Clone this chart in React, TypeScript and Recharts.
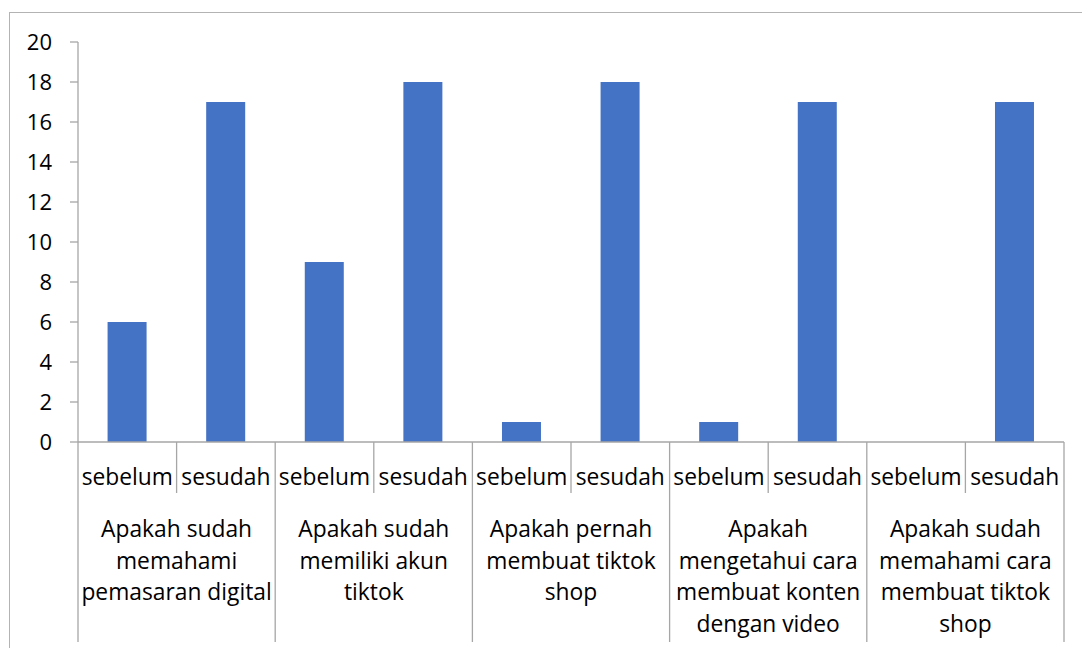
import { BarChart, Bar, XAxis, YAxis } from "recharts";

const pertanyaan = [
  "Apakah sudah\nmemahami\npemasaran digital",
  "Apakah sudah\nmemiliki akun\ntiktok",
  "Apakah pernah\nmembuat tiktok\nshop",
  "Apakah\nmengetahui cara\nmembuat konten\ndengan video",
  "Apakah sudah\nmemahami cara\nmembuat tiktok\nshop",
];
const waktu = ["sebelum", "sesudah"];
const nilaiSebelum = [6, 9, 1, 1, 0];
const nilaiSesudah = [17, 18, 18, 17, 17];
const tickNilai = [0, 2, 4, 6, 8, 10, 12, 14, 16, 18, 20];

const data = pertanyaan.flatMap((p, i) => [
  { id: `${i}-a`, waktu: waktu[0], grup: p, nilai: nilaiSebelum[i] },
  { id: `${i}-b`, waktu: waktu[1], grup: p, nilai: nilaiSesudah[i] },
]);

const GARIS = "#a6a6a6";
const FONT_X = 22.8;
const FONT_Y = 22;
const TINGGI_WAKTU = 51;
const TINGGI_GRUP = 167;

function TickWaktu(props: any) {
  const { x, y, index, width, visibleTicksCount, payload } = props;
  const half = width && visibleTicksCount ? width / visibleTicksCount / 2 : payload.offset;
  return (
    <g>
      {index % 2 === 1 && (
        <line x1={x - half} x2={x - half} y1={y} y2={y + TINGGI_WAKTU} stroke={GARIS} strokeWidth={1.3} />
      )}
      <text x={x} y={y + 43} textAnchor="middle" fontSize={FONT_X} fill="#000">
        {data[index]?.waktu}
      </text>
    </g>
  );
}

function TickGrup(props: any) {
  const { x, y, index, width, visibleTicksCount, payload } = props;
  const half = width && visibleTicksCount ? width / visibleTicksCount / 2 : payload.offset;
  const baris = String(payload.value).split("\n");
  const y1 = y - TINGGI_WAKTU;
  const y2 = y + 149;
  return (
    <g>
      <line x1={x - half} x2={x - half} y1={y1} y2={y2} stroke={GARIS} strokeWidth={1.3} />
      {index === visibleTicksCount - 1 && (
        <line x1={x + half} x2={x + half} y1={y1} y2={y2} stroke={GARIS} strokeWidth={1.3} />
      )}
      {baris.map((b, i) => (
        <text key={i} x={x} y={y + 44 + i * 31.7} textAnchor="middle" fontSize={FONT_X} fill="#000">
          {b}
        </text>
      ))}
    </g>
  );
}

export default function App() {
  return (
    <div style={{ position: "fixed", left: 0, top: 0, width: 1082, height: 648, overflow: "hidden", background: "#fff" }}>
      <div
        style={{
          position: "absolute",
          left: 9,
          top: 12,
          width: 1200,
          height: 800,
          border: "1.5px solid #b3b3b3",
        }}
      />
      <div style={{ position: "absolute", left: 0, top: 0, fontFamily: "'Open Sans', sans-serif" }}>
        <BarChart
          width={1090}
          height={660}
          data={data}
          margin={{ top: 42, right: 26, bottom: 0, left: 0 }}
          barCategoryGap="30%"
        >
          <XAxis
            dataKey="id"
            interval={0}
            height={TINGGI_WAKTU}
            tickSize={0}
            tickMargin={0}
            tickLine={false}
            axisLine={{ stroke: GARIS, strokeWidth: 1.3 }}
            tick={<TickWaktu />}
          />
          <XAxis
            xAxisId="grup"
            dataKey="grup"
            allowDuplicatedCategory={false}
            interval={0}
            height={TINGGI_GRUP}
            tickSize={0}
            tickMargin={0}
            tickLine={false}
            axisLine={false}
            tick={<TickGrup />}
          />
          <YAxis
            width={78}
            domain={[0, 20]}
            ticks={tickNilai}
            interval={0}
            tickSize={8}
            tickMargin={18}
            axisLine={{ stroke: GARIS, strokeWidth: 1.3 }}
            tickLine={{ stroke: GARIS, strokeWidth: 1.3 }}
            tick={{ fontSize: FONT_Y, fill: "#000" }}
          />
          <Bar dataKey="nilai" fill="#4472c4" isAnimationActive={false} />
        </BarChart>
      </div>
    </div>
  );
}
